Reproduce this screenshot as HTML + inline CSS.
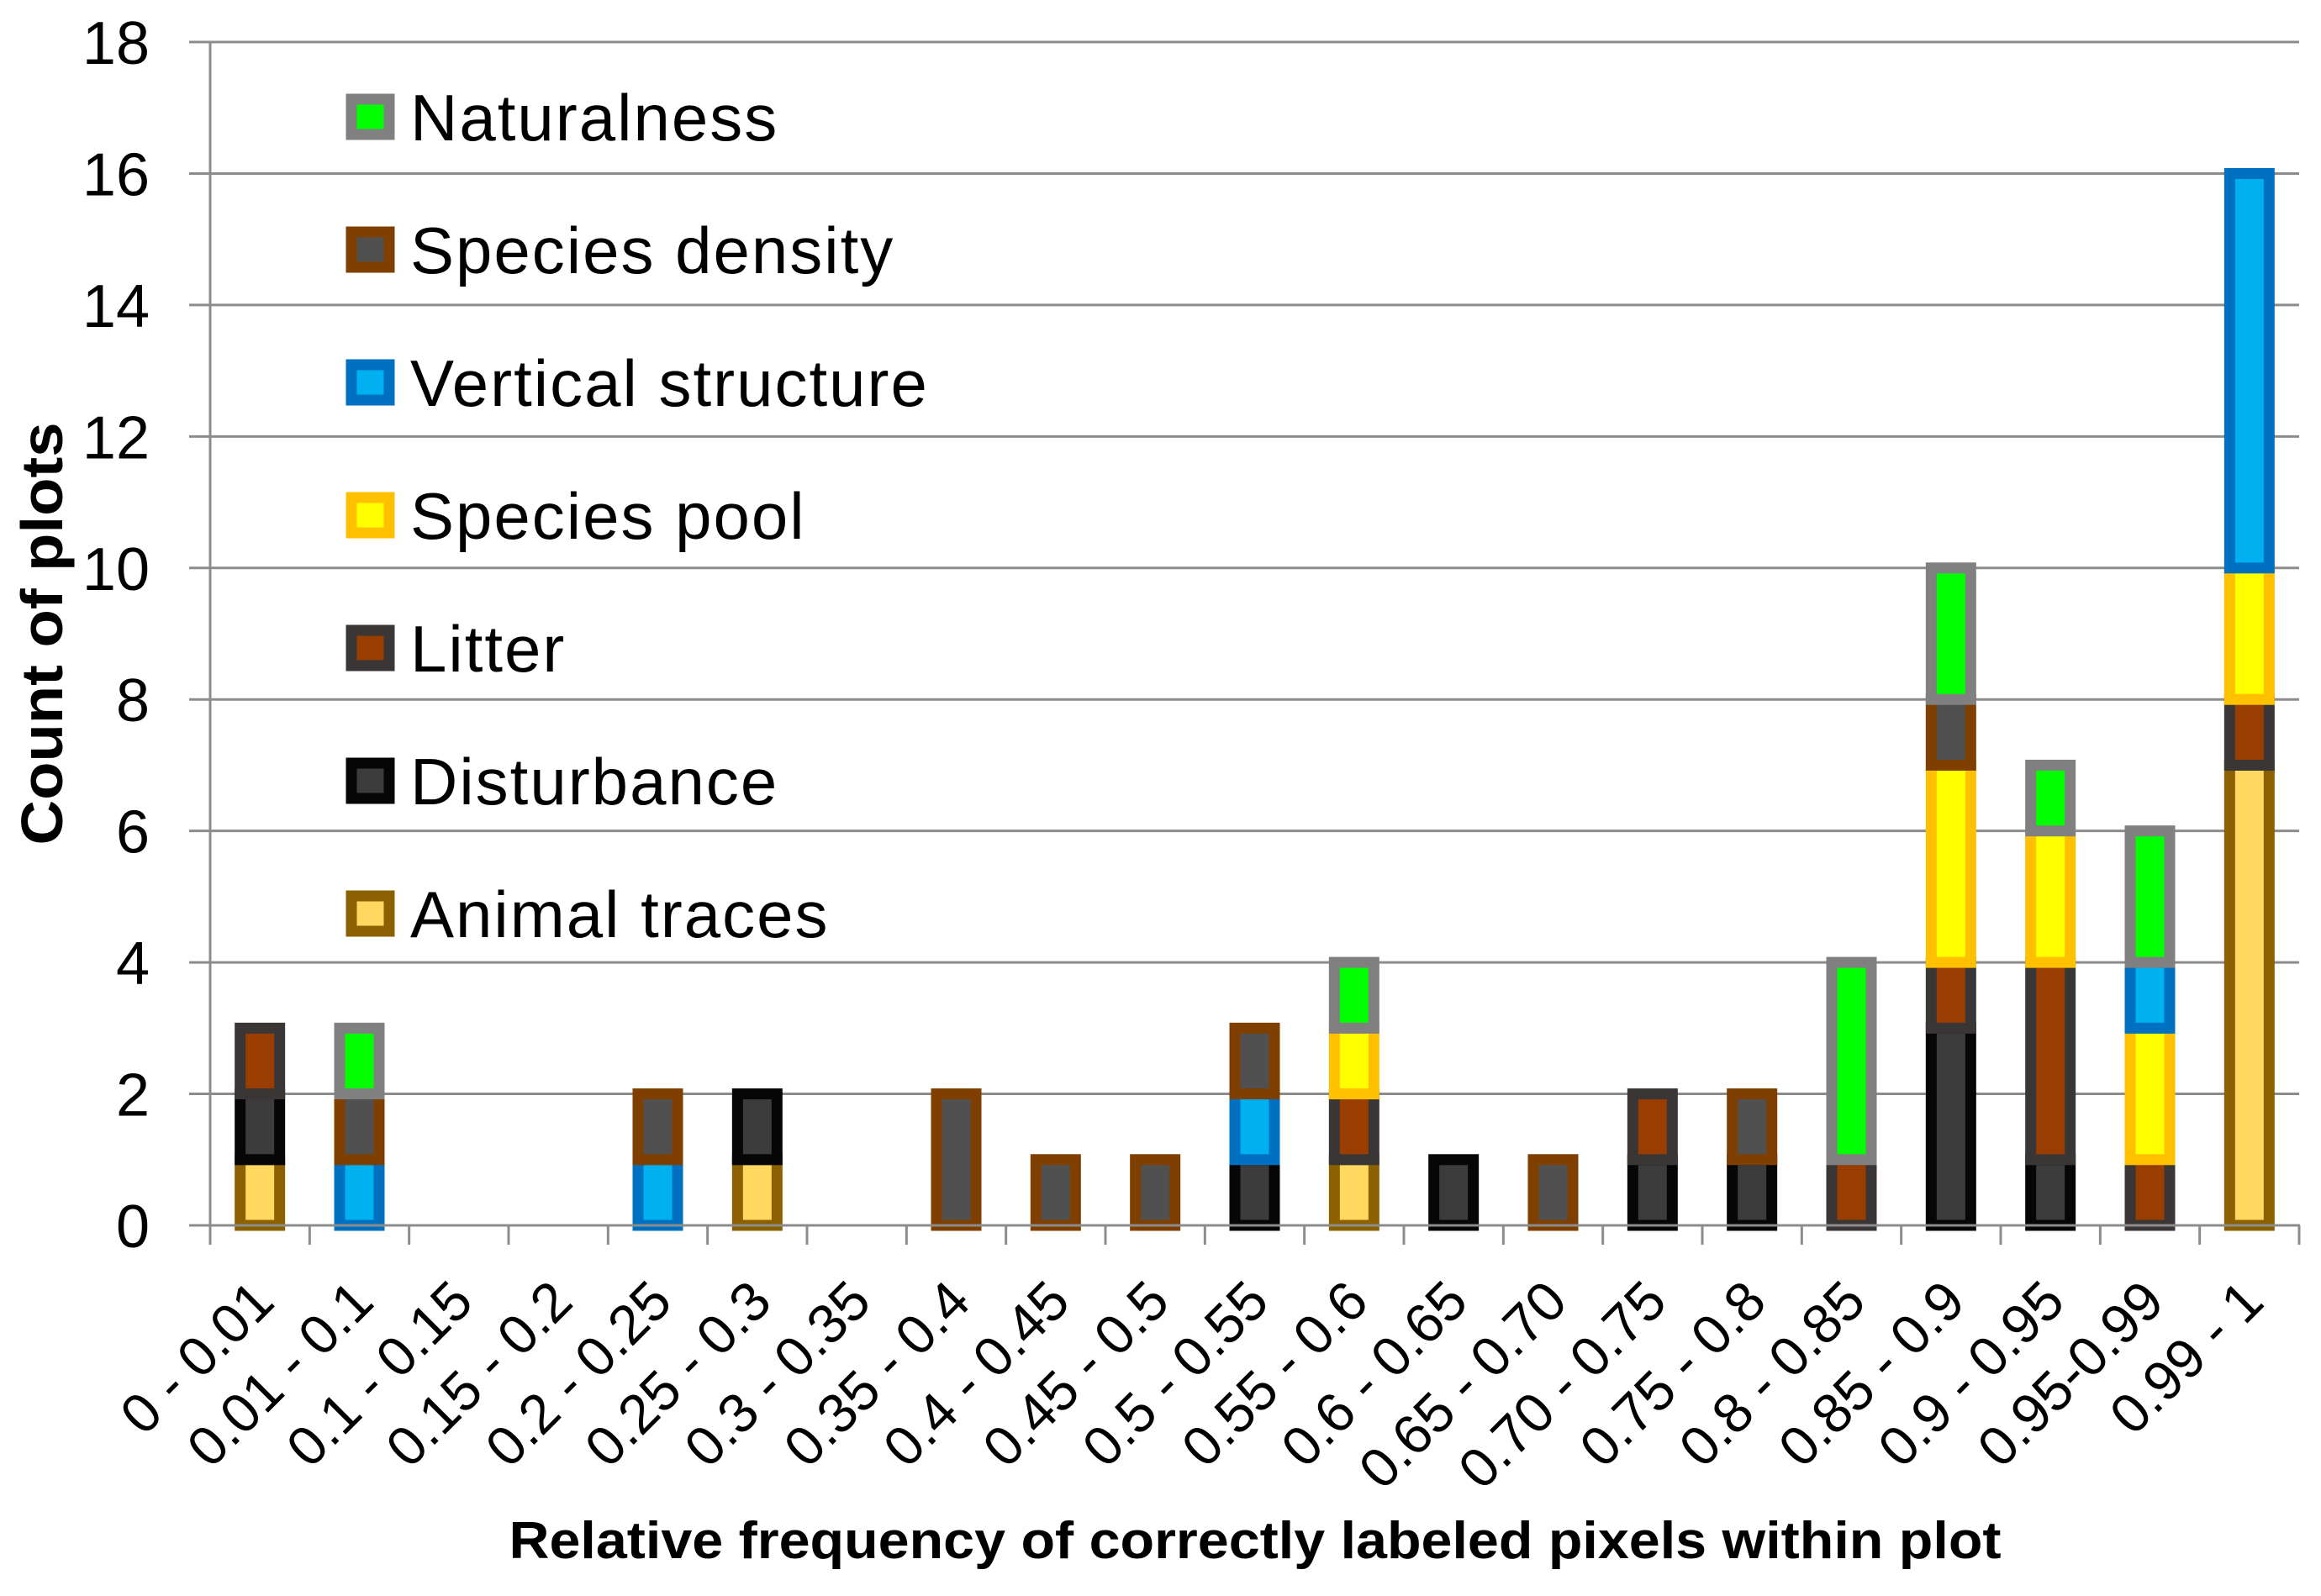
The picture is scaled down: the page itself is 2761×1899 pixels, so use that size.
<!DOCTYPE html>
<html><head><meta charset="utf-8"><style>
html,body{margin:0;padding:0;background:#fff;}
svg{display:block;font-family:"Liberation Sans",sans-serif;}
</style></head><body>
<svg id="chart" width="2761" height="1899" viewBox="0 0 2761 1899" xmlns="http://www.w3.org/2000/svg">
<g id="grid"></g>
<g id="yticks"></g>
<g id="bars"></g>
<g id="axes"></g>
<g id="xlabels"></g>
<text transform="translate(74,754) rotate(-90)" text-anchor="middle" font-size="70" font-weight="bold" textLength="503" lengthAdjust="spacingAndGlyphs">Count of plots</text>
<text x="1493" y="1854" text-anchor="middle" font-size="62" font-weight="bold" textLength="1775" lengthAdjust="spacingAndGlyphs">Relative frequency of correctly labeled pixels within plot</text>
<g id="legend"></g>
</svg>
<script>
const categories = ["0 - 0.01","0.01 - 0.1","0.1 - 0.15","0.15 - 0.2","0.2 - 0.25","0.25 - 0.3","0.3 - 0.35","0.35 - 0.4","0.4 - 0.45","0.45 - 0.5","0.5 - 0.55","0.55 - 0.6","0.6 - 0.65","0.65 - 0.70","0.70 - 0.75","0.75 - 0.8","0.8 - 0.85","0.85 - 0.9","0.9 - 0.95","0.95-0.99","0.99 - 1"];
const seriesNames = ["Animal traces","Disturbance","Litter","Species pool","Vertical structure","Species density","Naturalness"];
const animalTraces     = [1,0,0,0,0,1,0,0,0,0,0,1,0,0,0,0,0,0,0,0,7];
const disturbance      = [1,0,0,0,0,1,0,0,0,0,1,0,1,0,1,1,0,3,1,0,0];
const litter           = [1,0,0,0,0,0,0,0,0,0,0,1,0,0,1,0,1,1,3,1,1];
const speciesPool      = [0,0,0,0,0,0,0,0,0,0,0,1,0,0,0,0,0,3,2,2,2];
const verticalStruct   = [0,1,0,0,1,0,0,0,0,0,1,0,0,0,0,0,0,0,0,1,6];
const speciesDensity   = [0,1,0,0,1,0,0,2,1,1,1,0,0,1,0,1,0,1,0,0,0];
const naturalness      = [0,1,0,0,0,0,0,0,0,0,0,1,0,0,0,0,3,2,1,2,0];
const yTicks = [0,2,4,6,8,10,12,14,16,18];

const seriesData = [animalTraces,disturbance,litter,speciesPool,verticalStruct,speciesDensity,naturalness];
const fills   = ["#FFD95F","#3C3C3C","#993D00","#FFFF00","#00B0F0","#505050","#00FF00"];
const strokes = ["#8B6000","#060606","#3A3636","#FFC000","#0070C0","#7F3F00","#808080"];

const NS="http://www.w3.org/2000/svg";
const X0=250, X1=2735, Y0=1458, Y1=50, YMAX=18;
const step=(X1-X0)/categories.length;
function xC(i){return X0+step*(i+0.5);}
function yS(v){return Y0-(Y0-Y1)*v/YMAX;}
function mk(tag,attrs,parent){const e=document.createElementNS(NS,tag);for(const k in attrs)e.setAttribute(k,attrs[k]);parent.appendChild(e);return e;}

const grid=document.getElementById('grid'), yt=document.getElementById('yticks');
yTicks.forEach(v=>{
  const l=mk('line',{x1:225,x2:X1,y1:yS(v),y2:yS(v),stroke:'#8C8C8C','stroke-width':3},grid);
  
  
  const t=mk('text',{x:178,y:yS(v)+26,'text-anchor':'end','font-size':72},yt);
  t.textContent=v;
  
  
});

const bars=document.getElementById('bars');
categories.forEach((c,i)=>{
  let base=0;
  seriesData.forEach((s,k)=>{
    const v=s[i]; if(!v) return;
    const r=mk('rect',{x:xC(i)-23.5,width:47,y:yS(base+v),height:yS(base)-yS(base+v),fill:fills[k],stroke:strokes[k],'stroke-width':13},bars);
    
    
    base+=v;
  });
});

const axes=document.getElementById('axes');
const ya=mk('line',{x1:X0,x2:X0,y1:Y1,y2:1481,stroke:'#8C8C8C','stroke-width':3},axes);


const xa=mk('line',{x1:225,x2:X1+1,y1:Y0,y2:Y0,stroke:'#8C8C8C','stroke-width':3},axes);


for(let k=0;k<=categories.length;k++){
  const tk=mk('line',{x1:X0+k*step,x2:X0+k*step,y1:Y0,y2:1481,stroke:'#8C8C8C','stroke-width':3},axes);
  
  
}
const xl=document.getElementById('xlabels');
categories.forEach((c,i)=>{
  const x=xC(i)+20, y=1552;
  const t=mk('text',{x:x,y:y,'text-anchor':'end','font-size':66,transform:`rotate(-45 ${x} ${y})`},xl);
  t.textContent=c;
  
  
});

const lg=document.getElementById('legend');
for(let j=0;j<7;j++){
  const k=6-j, cy=139+158*j;
  const r=mk('rect',{x:418,y:cy-21,width:45,height:42,fill:fills[k],stroke:strokes[k],'stroke-width':13},lg);
  
  
  const t=mk('text',{x:488,y:cy+28,'font-size':78,'letter-spacing':2},lg);
  t.textContent=seriesNames[k];
  
  
}
</script>
</body></html>
